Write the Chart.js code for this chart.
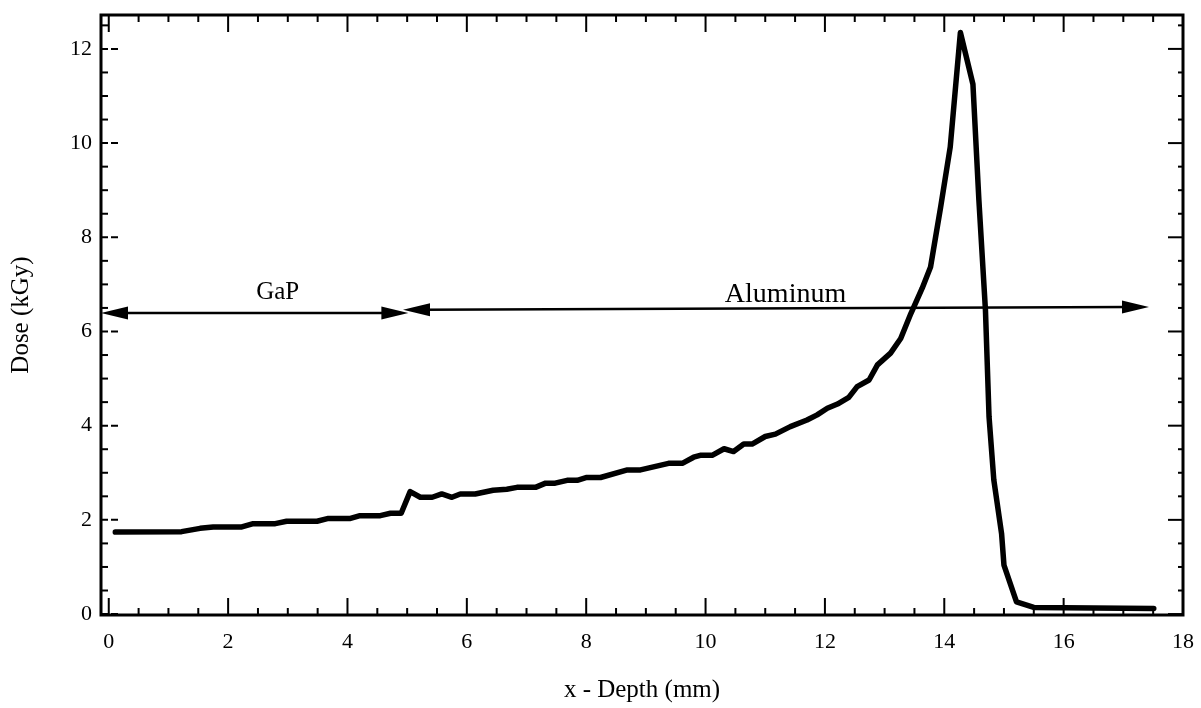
<!DOCTYPE html>
<html>
<head>
<meta charset="utf-8">
<script src="https://cdn.jsdelivr.net/npm/chart.js@4.4.1/dist/chart.umd.min.js"></script>
<style>
  html, body { margin: 0; padding: 0; background: #fff; }
</style>
</head>
<body>
<canvas id="doseChart" width="1201" height="708"></canvas>
<script>
// depth (mm) and dose (kGy)
const depthMm = [0.11, 1.22, 1.53, 1.75, 2.23, 2.42, 2.79, 2.98, 3.49, 3.68, 4.05, 4.21, 4.55, 4.72, 4.9,
  5.05, 5.22, 5.42, 5.58, 5.75, 5.89, 6.14, 6.44, 6.67, 6.84, 7.15, 7.32, 7.48, 7.68, 7.85, 8.01, 8.24,
  8.69, 8.91, 9.38, 9.61, 9.8, 9.91, 10.11, 10.31, 10.47, 10.64, 10.78, 11.0, 11.17, 11.42, 11.7, 11.87,
  12.04, 12.21, 12.4, 12.54, 12.74, 12.88, 13.1, 13.27, 13.44, 13.63, 13.77, 13.94, 14.1, 14.27, 14.48,
  14.58, 14.69, 14.75, 14.83, 14.96, 15.0, 15.21, 15.5, 17.51];
const doseKGy = [1.74, 1.75, 1.82, 1.85, 1.85, 1.92, 1.92, 1.97, 1.97, 2.03, 2.03, 2.09, 2.09, 2.14, 2.14,
  2.6, 2.48, 2.48, 2.55, 2.48, 2.55, 2.55, 2.63, 2.65, 2.69, 2.69, 2.78, 2.78, 2.84, 2.84, 2.9, 2.9,
  3.06, 3.06, 3.2, 3.2, 3.33, 3.37, 3.37, 3.51, 3.45, 3.61, 3.61, 3.77, 3.82, 3.98, 4.12, 4.23,
  4.37, 4.46, 4.6, 4.83, 4.97, 5.29, 5.54, 5.85, 6.38, 6.92, 7.37, 8.65, 9.92, 12.35, 11.25,
  8.79, 6.45, 4.19, 2.85, 1.71, 1.04, 0.26, 0.14, 0.12];

const xTickLabels = [0, 2, 4, 6, 8, 10, 12, 14, 16, 18];
const yTickLabels = [0, 2, 4, 6, 8, 10, 12];

// material regions (double arrows)
const regionNames = ['GaP', 'Aluminum'];
const regionFrom = [-0.13, 4.93];
const regionTo = [5.02, 17.43];
const regionDoseLeft = [6.39, 6.46];
const regionDoseRight = [6.39, 6.52];
const regionLabelDepth = [2.83, 11.34];
const regionLabelDose = [6.69, 6.62];

const serif = 'Liberation Serif';
const regionFonts = ['25px "Liberation Serif"', '28px "Liberation Serif"'];

function findLabel(list, v) {
    const k = list.find((t) => Math.abs(t - v) < 1e-6);
    return k === undefined ? '' : String(k);
}

function isHalf(v) {
    return Math.abs(v * 2 - Math.round(v * 2)) < 1e-6;
}

function isMajor(v) {
    return Math.abs(v / 2 - Math.round(v / 2)) < 1e-6;
}

function arrowHead(ctx, x, y, dir) {
    // dir = -1 points left, 1 points right
    ctx.beginPath();
    ctx.moveTo(x, y);
    ctx.lineTo(x - dir * 27, y - 6.5);
    ctx.lineTo(x - dir * 27, y + 6.5);
    ctx.closePath();
    ctx.fill();
}

const frameAndTicks = {
    id: 'frameAndTicks',
    afterDraw(chart) {
        const { ctx, chartArea: a, scales } = chart;
        const x = scales.x;
        const y = scales.y;
        ctx.save();
        ctx.strokeStyle = '#000';
        ctx.fillStyle = '#000';
        ctx.lineCap = 'butt';

        // inward ticks, top and bottom
        ctx.lineWidth = 2;
        x.ticks.forEach((t) => {
            if (!isHalf(t.value) || t.value < 0) return;
            const px = x.getPixelForValue(t.value);
            const len = isMajor(t.value) ? 17 : 7;
            ctx.beginPath();
            ctx.moveTo(px, a.bottom);
            ctx.lineTo(px, a.bottom - len);
            ctx.moveTo(px, a.top);
            ctx.lineTo(px, a.top + len);
            ctx.stroke();
        });

        // inward ticks, left and right
        y.ticks.forEach((t) => {
            if (!isHalf(t.value) || t.value < 0) return;
            const py = y.getPixelForValue(t.value);
            const major = isMajor(t.value);
            ctx.beginPath();
            if (major) ctx.setLineDash([7, 3]);
            ctx.moveTo(a.left, py);
            ctx.lineTo(a.left + (major ? 18 : 7), py);
            ctx.stroke();
            ctx.setLineDash([]);
            ctx.beginPath();
            ctx.moveTo(a.right, py);
            ctx.lineTo(a.right - (major ? 15 : 5), py);
            ctx.stroke();
        });

        // frame
        ctx.lineWidth = 3;
        ctx.strokeRect(a.left, a.top, a.right - a.left, a.bottom - a.top);

        // region arrows and labels
        ctx.lineWidth = 2.5;
        ctx.textAlign = 'center';
        ctx.textBaseline = 'alphabetic';
        regionNames.forEach((name, i) => {
            const x0 = x.getPixelForValue(regionFrom[i]);
            const x1 = x.getPixelForValue(regionTo[i]);
            const y0 = y.getPixelForValue(regionDoseLeft[i]);
            const y1 = y.getPixelForValue(regionDoseRight[i]);
            ctx.beginPath();
            ctx.moveTo(x0 + 20, y0);
            ctx.lineTo(x1 - 20, y1);
            ctx.stroke();
            arrowHead(ctx, x0, y0, -1);
            arrowHead(ctx, x1, y1, 1);
            ctx.font = regionFonts[i];
            ctx.fillText(name, x.getPixelForValue(regionLabelDepth[i]), y.getPixelForValue(regionLabelDose[i]));
        });
        ctx.restore();
    },
};

function noScalePadding(s) {
    s.paddingLeft = 0;
    s.paddingRight = 0;
    s.paddingTop = 0;
    s.paddingBottom = 0;
}

const ctx = document.getElementById('doseChart');
new Chart(ctx, {
    type: 'line',
    data: {
        datasets: [
            {
                data: depthMm.map((d, i) => ({ x: d, y: doseKGy[i] })),
                borderColor: '#000',
                borderWidth: 5.5,
                pointRadius: 0,
                tension: 0,
                fill: false,
                borderJoinStyle: 'round',
                borderCapStyle: 'round',
            },
        ],
    },
    options: {
        responsive: false,
        animation: false,
        devicePixelRatio: 1,
        layout: { padding: { top: 15, right: 18, left: 0, bottom: 0 } },
        plugins: { legend: { display: false }, tooltip: { enabled: false } },
        scales: {
            x: {
                type: 'linear',
                min: -0.13,
                max: 18,
                grid: { display: false, drawTicks: false },
                border: { display: false },
                ticks: {
                    stepSize: 0.5,
                    includeBounds: false,
                    autoSkip: false,
                    maxRotation: 0,
                    padding: 14,
                    color: '#000',
                    font: { family: serif, size: 22 },
                    callback: (v) => findLabel(xTickLabels, v),
                },
                title: {
                    display: true,
                    text: 'x - Depth (mm)',
                    color: '#000',
                    font: { family: serif, size: 25 },
                    padding: { top: 0, bottom: 3 },
                },
                afterFit: (s) => {
                    s.height = 93;
                    noScalePadding(s);
                },
            },
            y: {
                type: 'linear',
                min: -0.02,
                max: 12.72,
                grid: { display: false, drawTicks: false },
                border: { display: false },
                ticks: {
                    stepSize: 0.5,
                    includeBounds: false,
                    autoSkip: false,
                    padding: 9,
                    color: '#000',
                    font: { family: serif, size: 22 },
                    callback: (v) => findLabel(yTickLabels, v),
                },
                title: {
                    display: true,
                    text: 'Dose (kGy)',
                    color: '#000',
                    font: { family: serif, size: 25 },
                    padding: { top: 6, bottom: 0 },
                },
                afterFit: (s) => {
                    s.width = 101;
                    noScalePadding(s);
                },
            },
        },
    },
    plugins: [frameAndTicks],
});
</script>
</body>
</html>
